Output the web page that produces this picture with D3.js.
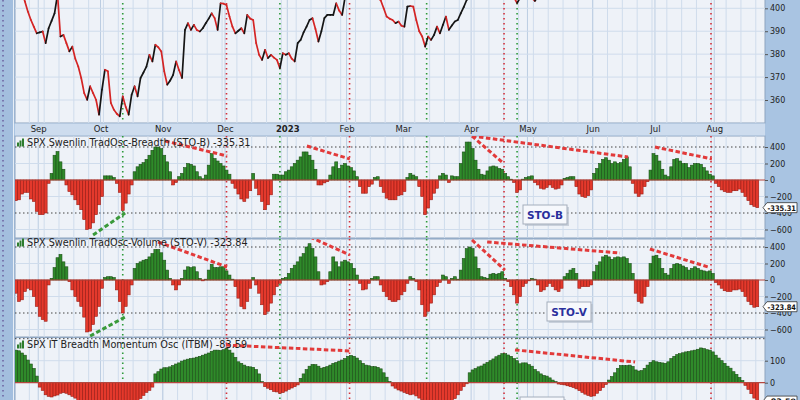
<!DOCTYPE html>
<html><head><meta charset="utf-8">
<script src="https://cdn.jsdelivr.net/npm/d3@7"></script>
<style>body{margin:0;background:#a9c4e2}svg{display:block}</style>
</head><body><svg id="c" width="800" height="400"></svg>
<script>
// ---------- data ----------
const months = ["Sep","Oct","Nov","Dec","2023","Feb","Mar","Apr","May","Jun","Jul","Aug"];
const monthStart = [8,29,50,71,92,112,131,154,173,195,216,236];

const price = [
412,410,407,403,398.6,395,392,389.1,389.5,389.9,
384.8,391.3,394.5,397.8,406,387.7,388.4,384.8,381.2,383.3,
378,374.6,369.6,363,360.1,366,363,360.1,353.6,364.5,
373.2,372.5,358.7,355.8,354,352.9,361.6,357,353.6,362.3,
366,361.6,369.6,372,374.6,379.7,376.8,384.1,383,381.2,
372.5,366.7,368.5,371,376.8,373,369.6,390.6,393.5,390.6,
392.8,390.5,389.9,391.3,393.5,395.5,397.8,395.7,390.6,402.2,
402,401.4,396.4,392,389.1,390.2,391.3,389.1,397.1,395.5,
394.9,384.8,379.7,377.5,381.9,378.3,379.7,378.5,377.5,373.9,
380.4,379.7,380.4,378,376.8,384.8,386.2,389.5,392,394.9,
395.7,391,385.5,390,395.7,397.1,397.1,397.1,402.2,399,
397.1,405,410,414,412,410,412,409,407,406,
408,405,404.5,403.5,400,396.4,395.5,394.9,393.5,394.2,
392.4,392,400.7,401,400.7,394.9,390,387.7,383.3,387.7,
386.2,388.4,392,389.1,392.8,396.4,390.6,392.5,394.2,394.9,
397.8,400.5,403.6,406,408,409,410,408,406.5,405,
407,409,410,408,406,405.5,404.8,405.2,404.6,402.3,
404.5,406,407,405.5,404.5,403.2,405,408,410,409,
411,413,414,413,412,410,412,414,415,416,
414,413,415,418,420,424,425,428,427,429,
432,431,433,435,434,436,437,435,432,431,
433,436,438,440,439,438,437,441,442,443,
445,446,448,447,450,451,452,451,450,452,
453,454,452,453,455,456,454,450,448,445,
446,444,443,445,443,440,437,438,436,434,
435];

const stoB = [
-250,-240,-170,-150,-150,-230,-260,-380,-420,-420,
-400,-40,80,300,345,220,130,-60,-140,-180,
-240,-300,-360,-480,-600,-590,-520,-420,-300,-200,
50,50,50,30,-40,-150,-370,-280,-170,-60,
100,160,190,210,250,300,360,400,400,380,
300,220,100,-60,-30,40,80,150,200,190,
170,100,40,15,60,180,320,260,230,200,
170,120,70,-40,-100,-170,-230,-260,-220,-130,
80,-100,-180,-260,-360,-300,-180,70,70,60,
60,100,120,160,200,240,280,340,340,300,
240,130,-60,-60,-35,-20,60,160,220,140,
180,200,170,150,110,40,-80,-160,-160,-80,
-50,30,40,-80,-150,-220,-240,-240,-240,-190,
-180,-140,30,80,60,40,-80,-200,-420,-340,
-240,-160,-100,50,80,60,-30,50,40,40,
200,340,460,460,380,240,130,70,60,110,
160,170,160,140,130,80,40,10,-30,-150,
-120,10,30,40,50,-30,-60,-100,-110,-90,
-60,-90,-110,-100,-60,20,30,40,40,-80,
-170,-200,-210,-190,-120,80,140,200,250,270,
240,200,220,200,210,250,280,160,-40,-160,
-200,-170,-80,-20,120,320,300,230,130,60,
40,160,250,260,230,200,200,150,180,200,
200,190,150,110,70,50,-40,-80,-120,-140,
-150,-150,-130,-130,-110,-150,-200,-250,-300,-320,
-335.31];

const stoV = [
-160,-260,-240,-140,-100,-120,-200,-320,-440,-480,
-500,-60,20,150,270,310,220,160,-20,-120,
-200,-260,-320,-450,-630,-620,-540,-440,-320,-100,
30,40,40,30,-120,-260,-400,-320,-180,-60,
140,200,220,240,250,280,320,370,370,330,
240,120,20,-60,-120,-60,20,120,160,150,
160,100,20,-10,10,120,190,150,150,160,
160,110,60,10,-80,-220,-320,-350,-260,-100,
30,-60,-160,-300,-420,-380,-280,-180,-80,-40,
20,30,80,140,180,220,280,320,400,440,
380,280,100,-60,-50,-20,100,280,220,160,
220,240,220,200,140,60,-40,-120,-110,-40,
20,40,40,-60,-140,-200,-240,-260,-260,-240,
-180,-140,-40,40,20,-20,-120,-300,-440,-380,
-280,-180,-80,-30,60,40,-40,20,40,10,
120,260,380,400,380,280,140,40,30,20,
70,80,70,80,100,20,-20,-80,-180,-280,
-200,-80,-40,-10,20,10,-60,-140,-120,-80,
-40,-80,-120,-140,-100,40,80,120,140,80,
-100,-80,-80,-80,-60,100,180,220,280,300,
280,250,270,280,270,280,260,200,80,-160,
-260,-280,-200,-80,200,290,300,260,140,80,
60,140,190,200,190,170,150,120,140,160,
140,120,110,100,110,80,-30,-60,-100,-130,
-140,-140,-120,-120,-110,-140,-200,-260,-300,-330,
-323.84];

const itbm = [
148,145,135,125,103,85,65,30,-20,-35,
-55,-62,-65,-60,-56,-48,-45,-48,-55,-62,
-70,-80,-88,-95,-100,-105,-108,-110,-112,-112,
-110,-108,-108,-110,-112,-115,-115,-112,-108,-100,
-92,-82,-72,-58,-44,-35,-20,40,50,62,
68,68,72,78,85,90,98,103,107,110,
112,116,120,125,130,135,143,148,148,146,
150,155,148,135,115,95,88,80,73,72,
70,60,40,5,-18,-25,-32,-40,-42,-48,
-45,-38,-30,-24,-18,-10,20,40,60,75,
83,82,75,66,70,73,80,88,92,98,
103,110,120,124,120,112,100,88,80,77,
73,73,70,63,45,25,5,-15,-25,-33,
-38,-44,-50,-55,-52,-60,-70,-78,-85,-90,
-92,-95,-98,-100,-98,-95,-90,-82,-72,-55,
-35,-18,-5,45,58,64,72,76,85,92,
100,108,118,125,132,132,126,120,110,100,
86,90,90,82,75,60,50,40,33,30,
22,12,5,-6,-8,-10,-14,-18,-22,-28,
-36,-44,-52,-58,-62,-60,-48,-36,-22,-8,
12,28,45,65,78,78,78,80,74,58,
53,55,65,80,92,100,95,92,90,88,
95,110,120,128,132,136,140,142,145,148,
152,158,155,150,148,140,125,112,100,88,
75,66,50,38,24,10,-12,-30,-50,-70,
-83.59];

const priceTicks = [360,370,380,390,400];
const stoTicks = [400,200,0,-200,-400,-600];
const itbmTicks = [100,0];
const greenVLines = [36, 89, 138.5, 169];
const redVLines = [71, 112.5, 164.6, 234.4];

const stoBTrends = [
 {c:"red",   a:[50.3,473], b:[71.2,291]},
 {c:"red",   a:[98.1,412], b:[112.6,255]},
 {c:"green", a:[26,-667],  b:[36.8,-400]},
 {c:"red",   a:[153.8,533],b:[163.9,218]},
 {c:"red",   a:[153.8,533],b:[206.4,279]},
 {c:"red",   a:[215.5,400],b:[234.7,255]}];
const stoVTrends = [
 {c:"red",   a:[47.9,461], b:[71.2,158]},
 {c:"green", a:[25,-679],  b:[36.8,-448]},
 {c:"red",   a:[99.2,521], b:[112.6,303]},
 {c:"red",   a:[153.8,485],b:[164.9,121]},
 {c:"red",   a:[158.9,461],b:[203.7,327]},
 {c:"red",   a:[213.8,376],b:[233.4,158]}];
const itbmTrends = [
 {c:"red", a:[70.8,171], b:[113.3,144]},
 {c:"red", a:[168.3,149],b:[208.8,94]}];

// ---------- layout ----------
const svg = d3.select("#c");
const L = 15, R = 765;
const x = d3.scaleLinear().domain([0,250]).range([16, 16+250*2.965]);
const bw = 2.965;
const FONT = "DejaVu Sans, Verdana, sans-serif";
const COL = {plot:"#eef2f8", grid:"#cfdcec", gridM:"#bccde2", green:"#2f8a2a", greenS:"#1c4f17",
  red:"#e4392c", redS:"#9a1c14", zero:"#b5473f", tRed:"#e23a3a", tGreen:"#3a9a3a"};

svg.append("rect").attr("width",800).attr("height",400).attr("fill","#a9c4e2");
// left strip
svg.append("rect").attr("x",0).attr("y",0).attr("width",13).attr("height",400).attr("fill","#a3bede");
svg.append("line").attr("x1",3).attr("x2",3).attr("y1",0).attr("y2",400)
  .attr("stroke","#6b5f9e").attr("stroke-width",1.5).attr("stroke-dasharray","1.5,3.5");
svg.append("line").attr("x1",13.5).attr("x2",13.5).attr("y1",0).attr("y2",400).attr("stroke","#e8eef6");

const panels = [
  {name:"price", top:-2, bottom:123},
  {name:"stoB", top:136, bottom:238},
  {name:"stoV", top:239, bottom:337},
  {name:"itbm", top:337.5, bottom:420}];
const defs = svg.append("defs");
panels.forEach(p=>{
  defs.append("clipPath").attr("id","clip-"+p.name).append("rect")
    .attr("x",L).attr("y",p.top).attr("width",R-L).attr("height",p.bottom-p.top);
  svg.append("rect").attr("x",L).attr("y",p.top).attr("width",R-L).attr("height",p.bottom-p.top)
    .attr("fill",COL.plot).attr("stroke","#8ea4bf").attr("stroke-width",1);
});
// month label band
svg.append("rect").attr("x",L).attr("y",123.5).attr("width",R-L).attr("height",12)
  .attr("fill","#cddcee");

function vGrid(p){
  const g = svg.append("g").attr("clip-path","url(#clip-"+p.name+")");
  g.selectAll("line.w").data(d3.range(0,251,5)).join("line")
   .attr("x1",d=>x(d)-bw/2).attr("x2",d=>x(d)-bw/2).attr("y1",p.top).attr("y2",p.bottom)
   .attr("stroke",COL.grid).attr("stroke-width",1);
  g.selectAll("line.m").data(monthStart).join("line")
   .attr("x1",d=>x(d)-bw/2).attr("x2",d=>x(d)-bw/2).attr("y1",p.top).attr("y2",p.bottom)
   .attr("stroke",COL.gridM).attr("stroke-width",1);
  return g;
}
function vMarks(p){
  const g = svg.append("g").attr("clip-path","url(#clip-"+p.name+")");
  g.selectAll("line.g").data(greenVLines).join("line")
   .attr("x1",d=>x(d)).attr("x2",d=>x(d)).attr("y1",p.top).attr("y2",p.bottom)
   .attr("stroke","#2d9a3a").attr("stroke-width",1.6).attr("stroke-dasharray","1.6,3.4");
  g.selectAll("line.r").data(redVLines).join("line")
   .attr("x1",d=>x(d)).attr("x2",d=>x(d)).attr("y1",p.top).attr("y2",p.bottom)
   .attr("stroke","#d4303a").attr("stroke-width",1.6).attr("stroke-dasharray","1.6,3.4");
}
function rightAxis(y, ticks, fmt){
  const ax = d3.axisRight(y).tickValues(ticks).tickSize(3).tickPadding(2).tickFormat(fmt||d3.format("d"));
  const g = svg.append("g").attr("transform",`translate(${R},0)`).call(ax);
  g.select(".domain").remove();
  g.selectAll("line").attr("stroke","#555");
  g.selectAll("text").attr("font-family",FONT).attr("font-size",8).attr("fill","#1e1e1e");
}

// ---------- price panel ----------
const pP = panels[0];
const yP = d3.scaleLinear().domain([360,400]).range([100,8.3]);
const gP = vGrid(pP);
gP.selectAll("line.h").data(priceTicks).join("line")
  .attr("x1",L).attr("x2",R).attr("y1",d=>yP(d)).attr("y2",d=>yP(d)).attr("stroke",COL.grid);
vMarks(pP);
const gLine = svg.append("g").attr("clip-path","url(#clip-price)");
gLine.selectAll("line.seg").data(d3.range(1,price.length)).join("line")
  .attr("x1",i=>x(i-1)).attr("y1",i=>yP(price[i-1])).attr("x2",i=>x(i)).attr("y2",i=>yP(price[i]))
  .attr("stroke",i=>price[i]>=price[i-1]?"#151515":"#d42424").attr("stroke-width",1.7)
  .attr("stroke-linecap","round");
rightAxis(yP, priceTicks);
// month labels
const axB = d3.axisBottom(x).tickValues(monthStart).tickSize(0).tickPadding(0)
  .tickFormat((d,i)=>months[i]);
const gM = svg.append("g").attr("transform","translate(-1.5,126)").call(axB);
gM.select(".domain").remove();
gM.selectAll("text").attr("font-family",FONT).attr("font-size",8.5).attr("fill","#222")
  .attr("font-weight",(d,i)=>months[i]==="2023"?"bold":"normal");

// ---------- oscillator panels ----------
function oscPanel(p, data, y, ticks, dotted, light, title, trends, boxLabel, valLabel, titleY){
  const g = vGrid(p);
  g.selectAll("line.l").data(light).join("line")
   .attr("x1",L).attr("x2",R).attr("y1",d=>y(d)).attr("y2",d=>y(d)).attr("stroke",COL.grid);
  vMarks(p);
  const gb = svg.append("g").attr("clip-path","url(#clip-"+p.name+")");
  gb.selectAll("line.d").data(dotted).join("line")
   .attr("x1",L).attr("x2",R).attr("y1",d=>y(d)).attr("y2",d=>y(d))
   .attr("stroke","#444").attr("stroke-width",1).attr("stroke-dasharray","1.5,2.5");
  gb.selectAll("rect.bar").data(data).join("rect")
   .attr("x",(d,i)=>x(i)-bw/2).attr("width",bw)
   .attr("y",d=>Math.min(y(d),y(0))).attr("height",d=>Math.max(0.5,Math.abs(y(d)-y(0))))
   .attr("fill",d=>d>=0?COL.green:COL.red).attr("stroke",d=>d>=0?COL.greenS:COL.redS)
   .attr("stroke-width",0.6);
  gb.append("line").attr("x1",L).attr("x2",R).attr("y1",y(0)).attr("y2",y(0))
   .attr("stroke",COL.zero).attr("stroke-width",1.2);
  // title
  const ty = titleY;
  const icon = svg.append("g");
  [[17,4],[19.5,6],[22,8]].forEach(([ix,h])=>icon.append("rect").attr("x",ix).attr("y",ty-h+0.5)
     .attr("width",2).attr("height",h).attr("fill","#2e7d2e"));
  svg.append("text").attr("x",27).attr("y",ty).attr("font-family",FONT).attr("font-size",9.7)
    .attr("fill","#222").text(title);
  // trend lines
  gb.selectAll("line.t").data(trends).join("line")
   .attr("x1",d=>x(d.a[0])).attr("y1",d=>y(d.a[1])).attr("x2",d=>x(d.b[0])).attr("y2",d=>y(d.b[1]))
   .attr("stroke",d=>d.c==="red"?COL.tRed:COL.tGreen).attr("stroke-width",3)
   .attr("stroke-dasharray","4.5,2.5");
  rightAxis(y, ticks);
  if(boxLabel){
    const b = svg.append("g").attr("transform",`translate(${boxLabel.x},${boxLabel.y})`);
    b.append("rect").attr("x",2).attr("y",2).attr("width",44).attr("height",19).attr("fill","#b9c2cf").attr("opacity",0.7);
    b.append("rect").attr("width",44).attr("height",19).attr("fill","#f6f8fc").attr("stroke","#a4adbb");
    b.append("text").attr("x",22).attr("y",14).attr("text-anchor","middle").attr("font-family",FONT)
      .attr("font-weight","bold").attr("font-size",10.5).attr("fill","#2a2f9c").text(boxLabel.t);
  }
  // last value label
  const v = data[data.length-1];
  const vy = y(v);
  const lg = svg.append("g").attr("transform",`translate(${R-2},${vy})`);
  lg.append("path").attr("d","M0,0 L4,-5 L34,-5 L34,5 L4,5 Z").attr("fill","#fff")
    .attr("stroke","#333").attr("stroke-width",0.8);
  lg.append("text").attr("x",4.5).attr("y",3).attr("font-family",FONT).attr("font-weight","bold")
    .attr("font-size",7.6).attr("textLength",28.5).attr("lengthAdjust","spacingAndGlyphs")
    .attr("fill","#111").text(valLabel);
}

const yB = d3.scaleLinear().domain([-400,400]).range([213,147]);
oscPanel(panels[1], stoB, yB, stoTicks, [400,-400], [200,-200,-600],
  "SPX Swenlin TradOsc-Breadth (STO-B) -335.31", stoBTrends, {x:523,y:205,t:"STO-B"}, "-335.31", 146);
const yV = d3.scaleLinear().domain([-400,400]).range([313,247]);
oscPanel(panels[2], stoV, yV, stoTicks, [400,-400], [200,-200,-600],
  "SPX Swenlin TradOsc-Volume (STO-V) -323.84", stoVTrends, {x:547,y:302,t:"STO-V"}, "-323.84", 246);
const yI = d3.scaleLinear().domain([0,100]).range([382.7,360.7]);
oscPanel(panels[3], itbm, yI, itbmTicks, [200], [100],
  "SPX IT Breadth Momentum Osc (ITBM) -83.59", itbmTrends, {x:520,y:397,t:"ITBM"}, "-83.59", 348);
</script></body></html>
